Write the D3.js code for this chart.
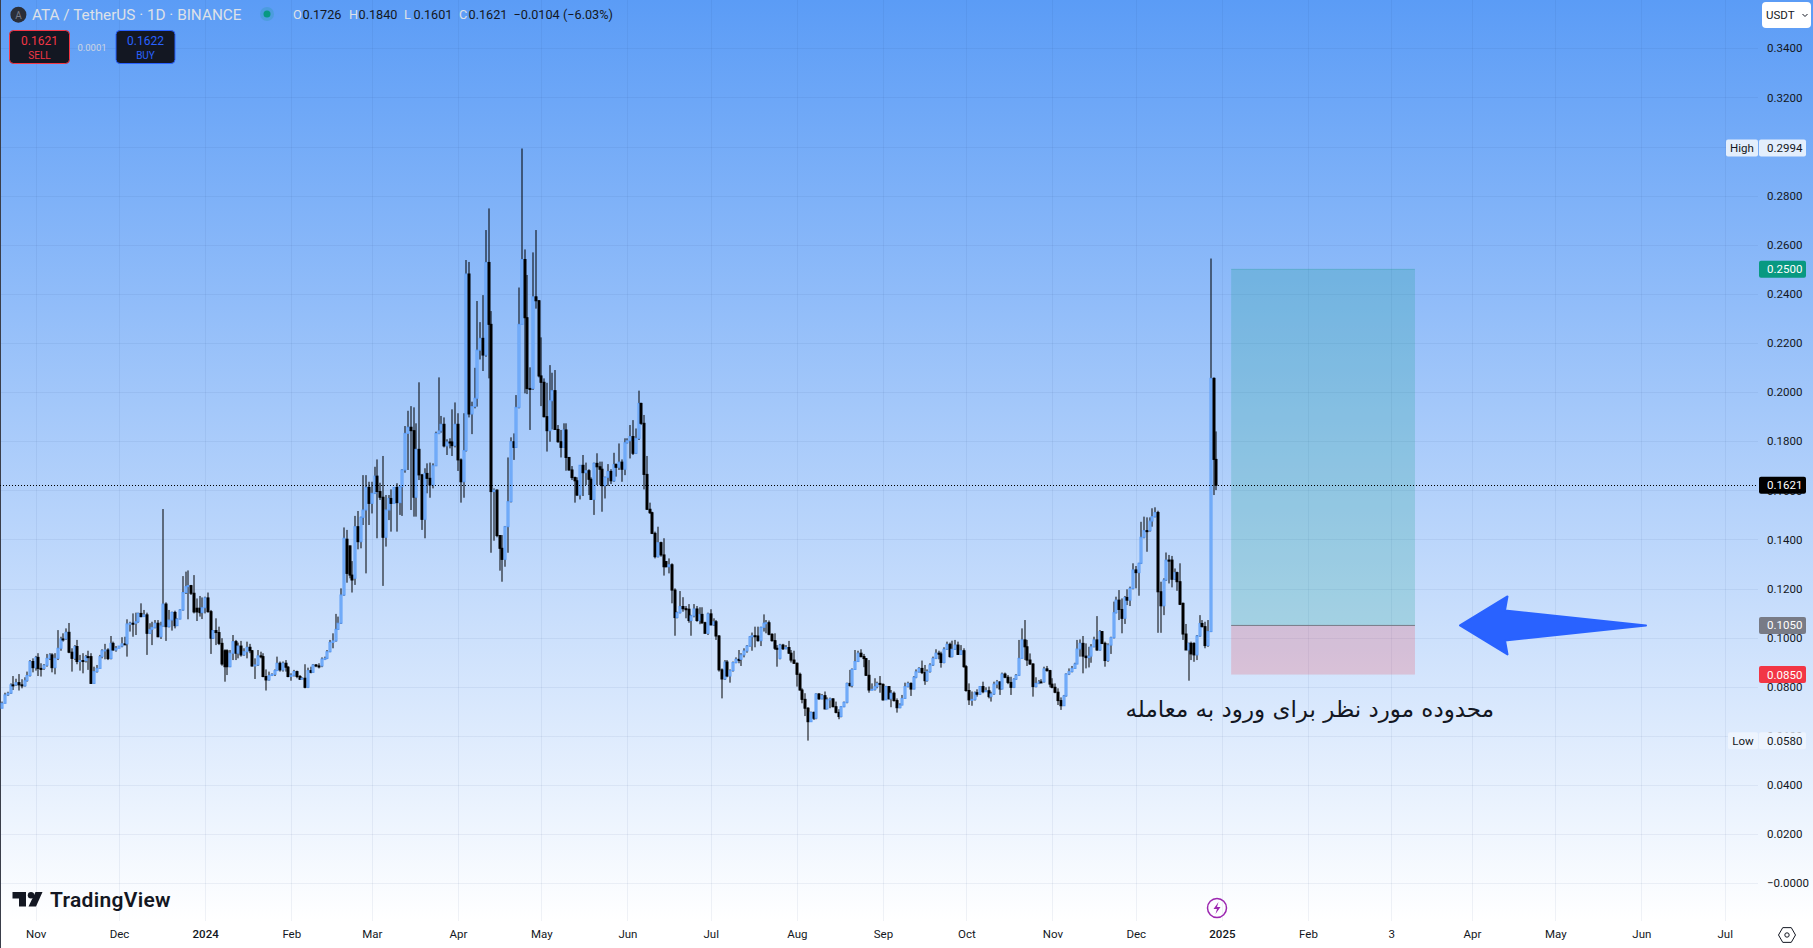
<!DOCTYPE html>
<html>
  <head>
    <meta charset="utf-8">
    <title>ATA / TetherUS</title>
    <script src="https://d3js.org/d3.v7.min.js"></script>
    <style>
      html, body { margin: 0; padding: 0; background: #fff; overflow: hidden; }
      text { font-family: Roboto, "Noto Sans", sans-serif; }
      .axis path, .axis line { display: none; }
      .axis text { font-family: Roboto, "Noto Sans", sans-serif; font-size: 11.5px; fill: #131722; }
    </style>
  </head>
  <body>
    <script>
      // daily candles, first one is 2023-10-20
      const firstDay = "2023-10-20";

      const opens = [
        .0713,.0733,.0767,.0774,.0808,.0808,.0817,.0808,.0804,.0825,
        .0846,.0903,.0878,.0920,.0875,.0875,.0888,.0916,.0930,.0878,
        .0916,.0957,.0995,.0995,.1022,.0941,.0916,.0964,.0903,.0907,
        .0907,.0923,.0923,.0814,.0862,.0875,.0923,.0947,.0950,.0915,
        .0977,.0950,.0957,.0966,.0975,.0975,.1056,.1059,.1059,.1065,
        .1099,.1086,.1093,.1018,.1034,.1042,.1059,.1004,.1048,.1137,
        .1045,.1072,.1103,.1049,.1076,.1113,.1184,.1208,.1212,.1181,
        .1120,.1120,.1102,.1122,.1162,.1106,.0998,.1029,.1021,.0977,
        .0947,.0947,.0882,.0937,.0984,.0937,.0966,.0930,.0943,.0961,
        .0947,.0885,.0889,.0926,.0923,.0842,.0828,.0846,.0851,.0866,
        .0896,.0869,.0896,.0880,.0842,.0847,.0862,.0842,.0831,.0835,
        .0798,.0866,.0859,.0889,.0885,.0885,.0913,.0916,.0943,.0981,
        .0987,.1034,.1059,.1174,.1401,.1374,.1255,.1242,.1452,.1391,
        .1490,.1520,.1612,.1547,.1588,.1658,.1595,.1572,.1409,.1520,
        .1567,.1547,.1612,.1550,.1615,.1683,.1832,.1857,.1843,.1572,
        .1767,.1663,.1482,.1669,.1649,.1622,.1700,.1832,.1842,.1869,
        .1781,.1797,.1797,.1782,.1869,.1724,.1635,.1762,.2481,.1911,
        .1941,.1975,.2171,.2219,.2151,.2528,.2276,.1595,.1601,.1416,
        .1364,.1319,.1452,.1554,.1798,.1775,.1938,.2276,.2540,.2303,
        .2015,.2015,.2388,.2372,.2066,.2040,.1900,.1843,.1965,.2006,
        .1848,.1798,.1775,.1846,.1734,.1683,.1652,.1639,.1581,.1702,
        .1672,.1680,.1645,.1563,.1710,.1696,.1686,.1619,.1653,.1677,
        .1639,.1705,.1694,.1715,.1686,.1794,.1802,.1819,.1751,.1812,
        .1954,.1873,.1665,.1523,.1509,.1425,.1330,.1387,.1337,.1310,
        .1289,.1297,.1194,.1082,.1102,.1127,.1118,.1116,.1070,.1089,
        .1117,.1070,.1095,.1061,.1018,.1097,.1052,.1065,.1007,.0869,
        .0832,.0901,.0844,.0866,.0899,.0912,.0912,.0930,.0946,.0966,
        .1004,.1008,.1007,.0988,.1042,.1059,.1061,.1014,.0988,.0957,
        .0916,.0970,.0955,.0960,.0937,.0909,.0896,.0851,.0787,.0749,
        .0713,.0658,.0696,.0672,.0771,.0751,.0764,.0710,.0747,.0751,
        .0719,.0696,.0679,.0719,.0737,.0814,.0805,.0871,.0903,.0937,
        .0923,.0915,.0847,.0787,.0790,.0801,.0814,.0810,.0747,.0801,
        .0751,.0774,.0744,.0715,.0726,.0753,.0801,.0814,.0791,.0839,
        .0861,.0875,.0858,.0825,.0862,.0889,.0916,.0937,.0934,.0899,
        .0953,.0973,.0923,.0953,.0970,.0932,.0947,.0882,.0785,.0747,
        .0749,.0776,.0770,.0801,.0780,.0784,.0760,.0771,.0811,.0820,
        .0791,.0852,.0839,.0818,.0798,.0831,.0847,.0916,.0991,.0963,
        .0909,.0893,.0801,.0814,.0820,.0820,.0873,.0866,.0811,.0798,
        .0778,.0744,.0723,.0763,.0852,.0862,.0875,.0893,.0954,.0977,
        .0925,.0919,.0925,.0963,.0991,.0950,.1025,.0977,.0907,.0970,
        .1000,.1102,.1153,.1115,.1079,.1164,.1153,.1201,.1276,.1265,
        .1303,.1409,.1436,.1436,.1475,.1493,.1510,.1187,.1130,.1235,
        .1316,.1316,.1238,.1265,.1228,.1140,.1015,.0950,.0977,.0977,
        .0930,.1007,.1058,.1045,.0968,.1025,.2056,.1726
      ];

      const highs = [
        .0740,.0776,.0780,.0814,.0844,.0833,.0852,.0831,.0839,.0862,
        .0909,.0916,.0926,.0937,.0896,.0893,.0934,.0937,.0937,.0937,
        .1031,.1004,.1018,.1038,.1060,.0957,.0970,.0991,.0930,.0937,
        .0930,.0947,.0937,.0882,.0889,.0930,.0953,.0975,.0957,.1007,
        .0984,.0966,.0966,.1002,.1004,.1075,.1065,.1099,.1102,.1102,
        .1140,.1113,.1102,.1059,.1065,.1072,.1072,.1065,.1524,.1144,
        .1113,.1106,.1110,.1079,.1116,.1251,.1269,.1274,.1215,.1255,
        .1160,.1170,.1164,.1167,.1184,.1113,.1031,.1079,.1045,.0998,
        .0953,.0953,.0950,.1011,.0991,.0980,.0987,.0957,.0984,.0975,
        .0950,.0916,.0950,.0943,.0937,.0871,.0862,.0855,.0871,.0923,
        .0903,.0903,.0909,.0885,.0855,.0869,.0866,.0848,.0839,.0892,
        .0878,.0882,.0893,.0893,.0896,.0920,.0923,.0950,.0991,.1018,
        .1097,.1086,.1201,.1449,.1439,.1374,.1312,.1496,.1516,.1493,
        .1662,.1662,.1635,.1635,.1696,.1726,.1631,.1740,.1581,.1581,
        .1604,.1608,.1629,.1618,.1686,.1862,.1924,.1943,.1938,.1873,
        .2040,.1667,.1690,.1710,.1713,.1710,.1839,.2060,.1903,.1897,
        .1808,.1812,.1930,.1958,.1914,.1730,.1914,.2538,.2530,.1961,
        .2099,.2371,.2285,.2395,.2660,.2748,.2330,.1608,.1604,.1418,
        .1418,.1455,.1734,.1816,.1832,.1988,.2426,.2992,.2581,.2477,
        .2101,.2569,.2660,.2375,.2223,.2056,.2038,.2110,.2079,.2090,
        .1866,.1846,.1873,.1873,.1734,.1699,.1656,.1653,.1703,.1744,
        .1713,.1686,.1653,.1713,.1751,.1717,.1717,.1656,.1707,.1686,
        .1753,.1710,.1791,.1726,.1812,.1812,.1866,.1886,.1852,.2006,
        .1957,.1907,.1740,.1550,.1513,.1432,.1452,.1391,.1405,.1310,
        .1323,.1303,.1201,.1106,.1190,.1165,.1129,.1137,.1093,.1137,
        .1129,.1124,.1124,.1065,.1102,.1116,.1079,.1072,.1011,.0875,
        .0909,.0909,.0871,.0903,.0920,.0950,.0937,.0957,.0970,.1007,
        .1021,.1045,.1045,.1045,.1095,.1072,.1070,.1018,.1018,.0970,
        .0975,.0975,.0970,.0987,.0950,.0947,.0899,.0858,.0794,.0774,
        .0717,.0699,.0699,.0774,.0774,.0771,.0781,.0757,.0756,.0753,
        .0740,.0709,.0722,.0740,.0817,.0869,.0875,.0950,.0947,.0953,
        .0934,.0916,.0909,.0814,.0835,.0821,.0844,.0814,.0804,.0801,
        .0787,.0781,.0753,.0733,.0767,.0817,.0821,.0818,.0844,.0871,
        .0880,.0907,.0889,.0871,.0896,.0923,.0953,.0947,.0943,.0961,
        .0984,.0980,.0988,.0991,.0984,.0970,.0957,.0889,.0814,.0781,
        .0781,.0790,.0803,.0821,.0798,.0801,.0780,.0821,.0828,.0822,
        .0858,.0858,.0848,.0841,.0835,.0852,.0991,.1038,.1072,.0991,
        .0936,.0896,.0839,.0828,.0831,.0882,.0885,.0869,.0835,.0814,
        .0794,.0757,.0767,.0855,.0875,.0885,.0898,.0991,.0993,.1007,
        .0977,.0963,.0974,.1004,.1088,.1031,.1025,.0984,.0977,.1004,
        .1147,.1167,.1194,.1160,.1170,.1197,.1208,.1303,.1292,.1305,
        .1472,.1493,.1490,.1490,.1527,.1531,.1517,.1228,.1242,.1347,
        .1337,.1333,.1282,.1269,.1303,.1143,.1056,.0980,.0984,.0981,
        .1011,.1092,.1072,.1065,.1072,.2544,.2060,.1840
      ];

      const lows = [
        .0713,.0733,.0763,.0771,.0787,.0804,.0785,.0794,.0801,.0821,
        .0842,.0859,.0866,.0844,.0842,.0869,.0882,.0909,.0859,.0851,
        .0909,.0947,.0984,.0991,.0937,.0862,.0909,.0892,.0866,.0855,
        .0899,.0869,.0812,.0812,.0858,.0878,.0916,.0912,.0909,.0912,
        .0947,.0943,.0961,.0961,.0972,.0923,.1025,.1004,.1011,.1061,
        .1083,.1086,.0930,.1015,.0970,.1038,.1002,.0995,.1045,.0987,
        .1042,.1029,.1038,.1048,.1075,.1110,.1178,.1075,.1174,.1099,
        .1068,.1086,.1076,.1099,.1102,.0934,.0995,.0970,.0970,.0886,
        .0821,.0848,.0880,.0909,.0909,.0916,.0923,.0926,.0916,.0937,
        .0882,.0832,.0885,.0916,.0839,.0785,.0825,.0844,.0844,.0866,
        .0862,.0862,.0862,.0839,.0825,.0842,.0835,.0828,.0831,.0794,
        .0795,.0855,.0858,.0880,.0875,.0880,.0909,.0913,.0941,.0957,
        .0984,.1032,.1056,.1171,.1224,.1242,.1184,.1215,.1360,.1364,
        .1459,.1262,.1459,.1506,.1585,.1405,.1561,.1211,.1371,.1479,
        .1432,.1550,.1432,.1500,.1496,.1672,.1683,.1520,.1493,.1493,
        .1642,.1439,.1405,.1588,.1570,.1608,.1699,.1829,.1835,.1775,
        .1744,.1771,.1740,.1775,.1679,.1550,.1570,.1758,.1897,.1829,
        .1934,.1941,.2133,.2086,.2144,.2056,.1346,.1395,.1409,.1273,
        .1228,.1289,.1346,.1551,.1724,.1774,.1934,.2277,.1995,.1992,
        .1846,.2009,.2340,.2060,.1943,.1897,.1758,.1798,.1848,.1846,
        .1794,.1734,.1775,.1680,.1680,.1642,.1550,.1577,.1563,.1577,
        .1622,.1581,.1561,.1500,.1622,.1622,.1513,.1567,.1618,.1626,
        .1635,.1656,.1683,.1635,.1662,.1791,.1730,.1744,.1748,.1805,
        .1866,.1604,.1520,.1504,.1422,.1323,.1327,.1330,.1253,.1287,
        .1262,.1140,.1008,.1079,.1099,.1106,.1079,.1061,.1008,.1083,
        .1065,.1055,.1056,.1018,.1011,.1051,.1048,.0991,.0862,.0753,
        .0828,.0839,.0817,.0862,.0896,.0896,.0885,.0920,.0939,.0964,
        .0947,.0961,.0984,.0966,.1025,.1018,.1010,.0984,.0950,.0882,
        .0912,.0950,.0953,.0934,.0899,.0893,.0801,.0785,.0733,.0681,
        .0581,.0662,.0665,.0668,.0747,.0749,.0709,.0709,.0713,.0717,
        .0692,.0668,.0676,.0717,.0733,.0801,.0798,.0869,.0901,.0920,
        .0880,.0844,.0776,.0787,.0785,.0794,.0776,.0744,.0747,.0749,
        .0717,.0740,.0695,.0713,.0725,.0751,.0798,.0763,.0790,.0835,
        .0858,.0852,.0808,.0821,.0858,.0885,.0913,.0912,.0878,.0896,
        .0950,.0919,.0920,.0950,.0930,.0930,.0878,.0780,.0726,.0723,
        .0744,.0760,.0767,.0774,.0780,.0753,.0740,.0767,.0794,.0767,
        .0790,.0835,.0811,.0767,.0795,.0828,.0844,.0916,.0909,.0885,
        .0889,.0760,.0798,.0811,.0817,.0817,.0862,.0798,.0794,.0774,
        .0726,.0706,.0722,.0760,.0848,.0859,.0873,.0892,.0923,.0855,
        .0875,.0879,.0898,.0961,.0947,.0947,.0974,.0882,.0902,.0934,
        .0997,.1099,.1072,.1018,.1056,.1133,.1129,.1197,.1201,.1171,
        .1300,.1405,.1350,.1432,.1452,.1490,.1020,.1020,.1092,.1231,
        .1221,.1205,.1235,.1191,.1133,.0991,.0950,.0825,.0909,.0902,
        .0909,.1004,.1042,.0957,.0963,.1023,.1581,.1601
      ];

      const closes = [
        .0733,.0767,.0774,.0808,.0808,.0817,.0808,.0804,.0825,.0846,
        .0903,.0878,.0920,.0875,.0875,.0888,.0916,.0930,.0878,.0916,
        .0957,.0995,.0995,.1022,.0941,.0916,.0964,.0903,.0907,.0907,
        .0923,.0923,.0814,.0862,.0875,.0923,.0947,.0950,.0915,.0977,
        .0950,.0957,.0966,.0975,.0975,.1056,.1059,.1059,.1065,.1099,
        .1086,.1093,.1018,.1034,.1042,.1059,.1004,.1048,.1137,.1045,
        .1072,.1103,.1049,.1076,.1113,.1184,.1208,.1212,.1181,.1105,
        .1105,.1102,.1122,.1162,.1106,.0998,.1029,.1021,.0977,.0893,
        .0882,.0882,.0937,.0984,.0937,.0966,.0930,.0943,.0961,.0947,
        .0885,.0889,.0926,.0923,.0842,.0828,.0846,.0851,.0866,.0896,
        .0869,.0896,.0880,.0842,.0847,.0862,.0842,.0831,.0835,.0798,
        .0866,.0859,.0889,.0885,.0885,.0913,.0916,.0943,.0981,.0987,
        .1034,.1059,.1174,.1405,.1262,.1255,.1235,.1452,.1391,.1490,
        .1520,.1612,.1547,.1588,.1658,.1595,.1572,.1409,.1520,.1567,
        .1547,.1612,.1550,.1615,.1683,.1832,.1857,.1843,.1572,.1767,
        .1663,.1482,.1669,.1649,.1622,.1700,.1832,.1842,.1869,.1781,
        .1797,.1797,.1782,.1869,.1724,.1635,.1762,.2481,.1911,.1941,
        .1975,.2171,.2219,.2151,.2528,.2276,.1595,.1601,.1416,.1364,
        .1319,.1452,.1554,.1798,.1775,.1938,.2276,.2540,.2303,.2015,
        .2015,.2388,.2372,.2066,.2040,.1900,.1843,.1965,.2006,.1848,
        .1798,.1775,.1846,.1734,.1683,.1652,.1639,.1581,.1702,.1672,
        .1680,.1645,.1563,.1710,.1696,.1686,.1619,.1653,.1677,.1639,
        .1705,.1694,.1715,.1686,.1794,.1802,.1819,.1751,.1812,.1954,
        .1873,.1665,.1523,.1509,.1425,.1330,.1387,.1337,.1289,.1289,
        .1297,.1194,.1082,.1102,.1127,.1118,.1116,.1070,.1089,.1117,
        .1070,.1095,.1061,.1018,.1097,.1052,.1065,.1007,.0869,.0832,
        .0901,.0844,.0866,.0899,.0912,.0912,.0930,.0946,.0966,.1004,
        .1008,.1007,.0988,.1042,.1059,.1061,.1014,.0988,.0957,.0953,
        .0970,.0955,.0960,.0937,.0909,.0896,.0851,.0787,.0749,.0713,
        .0658,.0696,.0672,.0771,.0751,.0764,.0710,.0747,.0751,.0719,
        .0696,.0679,.0719,.0737,.0814,.0805,.0871,.0903,.0937,.0923,
        .0915,.0847,.0787,.0790,.0801,.0814,.0810,.0747,.0801,.0751,
        .0774,.0744,.0715,.0726,.0753,.0801,.0814,.0791,.0839,.0861,
        .0875,.0858,.0825,.0862,.0889,.0916,.0937,.0934,.0899,.0953,
        .0973,.0923,.0953,.0970,.0932,.0947,.0882,.0785,.0747,.0749,
        .0776,.0770,.0801,.0780,.0784,.0760,.0771,.0811,.0820,.0791,
        .0852,.0839,.0818,.0798,.0831,.0847,.0916,.0991,.0963,.0909,
        .0893,.0801,.0814,.0820,.0820,.0873,.0866,.0811,.0798,.0778,
        .0744,.0723,.0763,.0852,.0862,.0875,.0893,.0954,.0977,.0925,
        .0919,.0925,.0963,.0991,.0950,.1025,.0977,.0907,.0970,.1000,
        .1102,.1153,.1115,.1079,.1164,.1153,.1201,.1276,.1265,.1303,
        .1409,.1436,.1436,.1475,.1493,.1510,.1187,.1130,.1235,.1316,
        .1316,.1238,.1265,.1228,.1136,.1015,.0950,.0977,.0934,.0930,
        .1007,.1058,.1045,.0968,.1025,.2056,.1726,.1621
      ];

      const priceTicks = [0, .02, .04, .06, .08, .10, .12, .14, .16, .18, .20, .22, .24, .26, .28, .30, .32, .34];
      const priceTickLabels = ["\u22120.0000", "0.0200", "0.0400", "0.0600", "0.0800", "0.1000", "0.1200", "0.1400", "0.1600",
        "0.1800", "0.2000", "0.2200", "0.2400", "0.2600", "0.2800", "0.3000", "0.3200", "0.3400"];

      const timeTicks = ["2023-11-01", "2023-12-01", "2024-01-01", "2024-02-01", "2024-03-01", "2024-04-01", "2024-05-01",
        "2024-06-01", "2024-07-01", "2024-08-01", "2024-09-01", "2024-10-01", "2024-11-01", "2024-12-01", "2025-01-01",
        "2025-02-01", "2025-03-03", "2025-04-01", "2025-05-01", "2025-06-01", "2025-07-01"];
      const timeTickLabels = ["Nov", "Dec", "2024", "Feb", "Mar", "Apr", "May", "Jun", "Jul", "Aug", "Sep", "Oct", "Nov", "Dec",
        "2025", "Feb", "3", "Apr", "May", "Jun", "Jul"];

      // long position drawing
      const tradeStart = "2025-01-04T08:00:00Z", tradeEnd = "2025-03-11T12:00:00Z";
      const target = .25, entry = .105, stop = .085, lastPrice = .1621, highest = .2994, lowest = .058;

      let width = 1813, height = 948, paneRight = 1758, paneBottom = 921;
      const day = d3.utcParse("%Y-%m-%d");

      let svg = d3.select("body").append("svg")
                  .attr("width", width).attr("height", height)
                  .style("display", "block");

      let grad = svg.append("defs").append("linearGradient")
                  .attr("id", "bg").attr("x1", 0).attr("x2", 0).attr("y1", 0).attr("y2", 1);
      grad.append("stop").attr("offset", 0).attr("stop-color", "#5b9cf6");
      grad.append("stop").attr("offset", 1).attr("stop-color", "#ffffff");
      svg.append("rect").attr("width", width).attr("height", paneBottom).attr("fill", "url(#bg)");
      svg.append("rect").attr("width", 1).attr("height", height).attr("fill", "#3a3e4a");

      let x = d3.scaleUtc().domain([day("2023-11-01"), day("2025-07-01")]).range([35.7, 1724.7]);
      let y = d3.scaleLinear().domain([0, .34]).range([883.3, 48.3]);
      const px = v => Math.round(v) + .5;

      // grid
      let grid = svg.append("g").attr("stroke", "rgba(30,60,120,.065)").attr("stroke-width", 1);
      grid.selectAll(".h").data(priceTicks).enter().append("line").attr("class", "h")
          .attr("x1", 0).attr("x2", paneRight)
          .attr("y1", d => px(y(d))).attr("y2", d => px(y(d)));
      grid.selectAll(".v").data(timeTicks).enter().append("line").attr("class", "v")
          .attr("y1", 0).attr("y2", paneBottom)
          .attr("x1", d => px(x(day(d)))).attr("x2", d => px(x(day(d))));

      // position tool
      let x0 = x(new Date(tradeStart)), x1 = x(new Date(tradeEnd));
      svg.append("rect").attr("x", x0).attr("width", x1 - x0)
          .attr("y", y(target)).attr("height", y(entry) - y(target)).attr("fill", "rgba(8,153,129,.2)");
      svg.append("rect").attr("x", x0).attr("width", x1 - x0)
          .attr("y", y(entry)).attr("height", y(stop) - y(entry)).attr("fill", "rgba(242,54,69,.2)");
      svg.append("line").attr("x1", x0).attr("x2", x1).attr("y1", y(entry)).attr("y2", y(entry))
          .attr("stroke", "#787b86").attr("stroke-width", 1);
      svg.append("line").attr("x1", x0).attr("x2", x1).attr("y1", y(target)).attr("y2", y(target))
          .attr("stroke", "rgba(8,153,129,.25)").attr("stroke-width", 1);

      // candles
      let candles = closes.map((c, i) => ({
        date: d3.utcDay.offset(day(firstDay), i), o: opens[i], h: highs[i], l: lows[i], c: c
      }));
      let cg = svg.append("g");
      cg.selectAll(".wick").data(candles).enter().append("rect").attr("class", "wick")
          .attr("x", d => Math.round(x(d.date)) - .5).attr("width", 1)
          .attr("y", d => y(d.h)).attr("height", d => y(d.l) - y(d.h))
          .attr("fill", "#000");
      cg.selectAll(".body").data(candles).enter().append("rect").attr("class", "body")
          .attr("x", d => Math.round(x(d.date)) - 1).attr("width", 2)
          .attr("y", d => Math.min(y(d.o), y(d.c)))
          .attr("height", d => Math.max(1, Math.abs(y(d.o) - y(d.c))))
          .attr("fill", d => d.c > d.o ? "#86b9fb" : "#000")
          .attr("stroke", d => d.c > d.o ? "#5b9cf6" : "#000")
          .attr("stroke-width", 1);

      // last price line
      svg.append("line").attr("x1", 0).attr("x2", paneRight).attr("y1", px(y(lastPrice))).attr("y2", px(y(lastPrice)))
          .attr("stroke", "#000").attr("stroke-width", 1).attr("stroke-dasharray", "1,2");

      // arrow
      let ay = y(entry);
      svg.append("path")
          .attr("d", d3.line()([[1460, ay], [1507.5, ay - 29], [1505, ay - 15], [1646, ay], [1505, ay + 15], [1507.5, ay + 29]]) + "Z")
          .attr("fill", "#2962ff").attr("stroke", "#2962ff").attr("stroke-width", 2).attr("stroke-linejoin", "round");

      // persian note
      svg.append("text").attr("x", 1494).attr("y", 717)
          .attr("direction", "rtl").attr("text-anchor", "start")
          .style("font-family", '"DejaVu Sans", sans-serif').style("font-size", "23px").attr("fill", "#131722")
          .text("محدوده مورد نظر برای ورود به معامله");

      // price axis
      let yAxis = d3.axisRight(y).tickValues(priceTicks).tickSize(0).tickPadding(0)
          .tickFormat((d, i) => priceTickLabels[i]);
      svg.append("g").attr("class", "axis").attr("transform", "translate(1767,0)").call(yAxis);

      // time axis
      let xAxis = d3.axisBottom(x).tickValues(timeTicks.map(day)).tickSize(0).tickPadding(0)
          .tickFormat((d, i) => timeTickLabels[i]);
      let xg = svg.append("g").attr("class", "axis").attr("transform", "translate(0,930)").call(xAxis);
      xg.selectAll("text").style("font-weight", (d, i) => /^\d{4}$/.test(timeTickLabels[i]) ? 500 : 400);

      // tags on the price scale
      function tag(price, label, bg, fg) {
        let g = svg.append("g").attr("transform", `translate(1759,${y(price)})`);
        g.append("rect").attr("y", -8.5).attr("width", 47).attr("height", 17).attr("rx", 2).attr("fill", bg);
        g.append("text").attr("x", 8).attr("dy", ".35em").attr("font-size", 11.5).attr("fill", fg).text(label);
      }
      function sideTag(price, label, left, bg) {
        let g = svg.append("g").attr("transform", `translate(${left},${y(price)})`);
        g.append("rect").attr("y", -8.5).attr("width", 1758 - left).attr("height", 17).attr("rx", 2).attr("fill", bg);
        g.append("text").attr("x", (1758 - left) / 2).attr("text-anchor", "middle").attr("dy", ".35em")
            .attr("font-size", 11.5).attr("fill", "#131722").text(label);
      }
      tag(highest, "0.2994", "#e3eefc", "#131722");
      sideTag(highest, "High", 1726, "#e3eefc");
      tag(target, "0.2500", "#089981", "#fff");
      tag(lastPrice, "0.1621", "#000", "#fff");
      tag(entry, "0.1050", "#787b86", "#fff");
      tag(stop, "0.0850", "#f23645", "#fff");
      tag(lowest, "0.0580", "#edf4fe", "#131722");
      sideTag(lowest, "Low", 1728, "#edf4fe");

      // currency button
      svg.append("rect").attr("x", 1762).attr("y", 2).attr("width", 49).attr("height", 26).attr("rx", 4).attr("fill", "#fff");
      svg.append("text").attr("x", 1766).attr("y", 19).attr("font-size", 11.5).attr("fill", "#131722").text("USDT");
      svg.append("path").attr("d", "M1802.5 14l2.5 2.5 2.5-2.5").attr("fill", "none").attr("stroke", "#131722").attr("stroke-width", 1);

      // header
      svg.append("circle").attr("cx", 18.4).attr("cy", 14.7).attr("r", 8).attr("fill", "#2a2e39");
      svg.append("text").attr("x", 18.4).attr("y", 18.5).attr("text-anchor", "middle").attr("font-size", 10).attr("fill", "#787b86").text("A");
      svg.append("text").attr("x", 32).attr("y", 20).attr("font-size", 15.3).attr("fill", "#dde1e8").text("ATA / TetherUS · 1D · BINANCE");
      svg.append("circle").attr("cx", 267).attr("cy", 14).attr("r", 7).attr("fill", "rgba(8,153,129,.2)");
      svg.append("circle").attr("cx", 267).attr("cy", 14).attr("r", 3.5).attr("fill", "#089981");
      const legendLetters = ["O", "H", "L", "C"], legendValues = ["0.1726", "0.1840", "0.1601", "0.1621"];
      const legendX = [293, 349, 404, 459];
      legendLetters.forEach((s, i) => {
        svg.append("text").attr("x", legendX[i]).attr("y", 18.5).attr("font-size", 12.7).attr("fill", "#dde1e8").text(s);
        svg.append("text").attr("x", legendX[i] + 9.5).attr("y", 18.5).attr("font-size", 12.7).attr("fill", "#131722").text(legendValues[i]);
      });
      svg.append("text").attr("x", 513.5).attr("y", 18.5).attr("font-size", 12.7).attr("fill", "#131722").text("\u22120.0104 (\u22126.03%)");

      function tradeBox(left, w, color, price, label) {
        svg.append("rect").attr("x", left).attr("y", 30.5).attr("width", w).attr("height", 33).attr("rx", 4)
            .attr("fill", "#131722").attr("stroke", color).attr("stroke-width", 1);
        svg.append("text").attr("x", left + w / 2).attr("y", 45).attr("text-anchor", "middle").attr("font-size", 12).attr("fill", color).text(price);
        svg.append("text").attr("x", left + w / 2).attr("y", 58.5).attr("text-anchor", "middle").attr("font-size", 10).attr("fill", color).text(label);
      }
      tradeBox(9.5, 60, "#f23645", "0.1621", "SELL");
      tradeBox(116, 59, "#2962ff", "0.1622", "BUY");
      svg.append("text").attr("x", 92).attr("y", 50.5).attr("text-anchor", "middle").attr("font-size", 9.5).attr("fill", "#cfd6e2").text("0.0001");

      // logo
      let logo = svg.append("g").attr("fill", "#131722");
      logo.append("path").attr("d", "M12.5 892H26V906.5H19V898.5H12.5Z");
      logo.append("circle").attr("cx", 31).attr("cy", 895.2).attr("r", 3.2);
      logo.append("path").attr("d", "M35.5 892H42.5L36 906.5H28.5Z");
      svg.append("text").attr("x", 50).attr("y", 907).attr("font-size", 21).attr("font-weight", 600)
          .attr("fill", "#131722").attr("textLength", 120.5).text("TradingView");

      // lightning marker
      svg.append("circle").attr("cx", 1217).attr("cy", 908).attr("r", 9.5).attr("fill", "none").attr("stroke", "#9c27b0").attr("stroke-width", 1.5);
      svg.append("path").attr("d", "M1218.5 902L1213.5 909H1217L1215.5 914L1220.5 907H1217Z").attr("fill", "#9c27b0");

      // settings icon
      let hex = d3.range(6).map(i => [1787 + 8.5 * Math.cos(i * Math.PI / 3), 935 + 8.5 * Math.sin(i * Math.PI / 3)]);
      svg.append("path").attr("d", d3.line()(hex) + "Z").attr("fill", "none").attr("stroke", "#131722").attr("stroke-width", 1);
      svg.append("circle").attr("cx", 1787).attr("cy", 935).attr("r", 2.2).attr("fill", "none").attr("stroke", "#131722").attr("stroke-width", 1);
    </script>
  </body>
</html>
